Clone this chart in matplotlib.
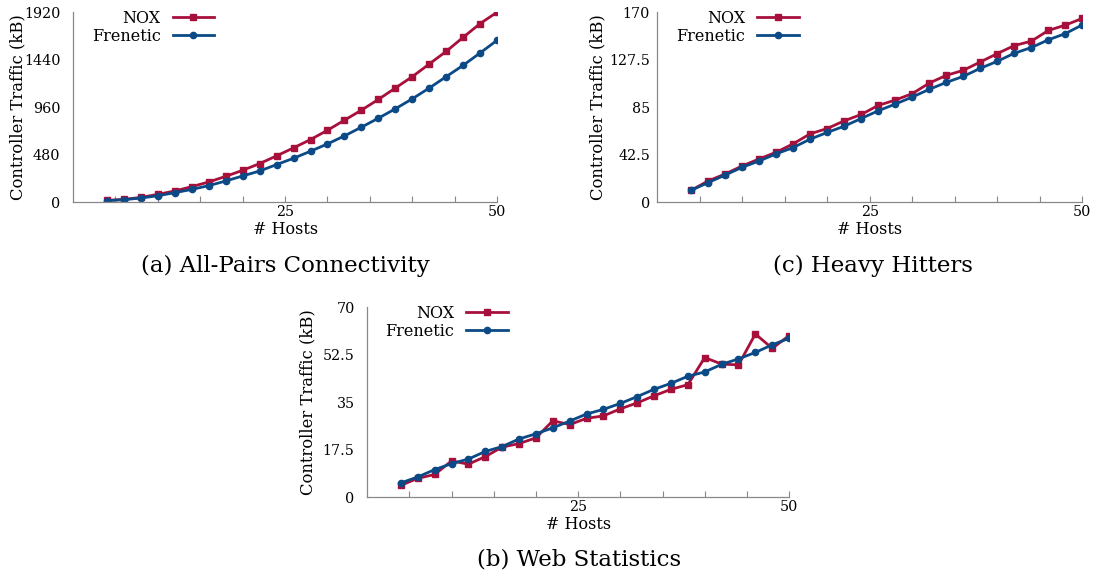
import matplotlib
matplotlib.use("Agg")
import matplotlib.pyplot as plt

plt.rcParams['font.family'] = ['DejaVu Serif']

hosts = list(range(4, 51, 2))

# (a) All-Pairs Connectivity
allpairs_nox = [17, 27, 47, 78, 112, 156, 203, 260, 321, 389, 467, 548,
                632, 726, 828, 929, 1038, 1153, 1268, 1396, 1524, 1666, 1805, 1920]
allpairs_frenetic = [14, 24, 41, 64, 95, 128, 166, 213, 264, 314, 379, 443,
                     514, 588, 669, 757, 848, 943, 1044, 1153, 1268, 1383, 1508, 1636]

# (c) Heavy Hitters
heavy_nox = [10.5, 18.9, 25.1, 32.3, 38.6, 44.6, 52.1, 61.1, 65.8, 72.7, 78.4, 86.5,
             91.3, 97.0, 106.5, 113.4, 117.9, 125.4, 132.9, 140.1, 144.0, 153.6, 158.4, 164.4]
heavy_frenetic = [10.5, 17.4, 24.2, 31.1, 36.8, 43.1, 48.8, 56.3, 62.3, 67.9, 74.8, 81.7,
                  87.7, 94.0, 100.9, 107.1, 112.5, 119.7, 126.0, 133.2, 138.3, 145.2, 150.8, 158.6]

# (b) Web Statistics
web_nox = [4.3, 6.9, 8.3, 13.3, 12.1, 14.9, 18.4, 19.7, 21.8, 28.1, 26.7, 29.0,
           29.9, 32.5, 34.7, 37.3, 39.7, 41.4, 51.4, 49.0, 48.7, 60.1, 54.8, 59.5]
web_frenetic = [5.2, 7.4, 10.1, 12.3, 14.0, 16.8, 18.6, 21.4, 23.3, 25.5, 28.0, 30.6,
                32.3, 34.5, 37.0, 39.7, 41.9, 44.5, 46.1, 48.9, 50.9, 53.3, 56.1, 58.5]

red = '#A8103C'
blue = '#0B4A86'


def panel(ax, nox, fre, ymax, yticks, yticklabels, ylab_x, ypad=9):
    ax.plot(hosts, nox, color=red, marker='s', markersize=4.5, lw=2, label='NOX')
    ax.plot(hosts, fre, color=blue, marker='o', markersize=4.5, lw=2, label='Frenetic')
    ax.set_xlim(0, 50)
    ax.set_ylim(0, ymax)
    ax.set_xticks(list(range(5, 51, 5)))
    ax.set_xticklabels(['25' if t == 25 else '50' if t == 50 else '' for t in range(5, 51, 5)])
    ax.set_yticks(yticks)
    ax.set_yticklabels(yticklabels)
    ax.tick_params(axis='x', direction='in', length=4, color='#888888', labelsize=10.3, pad=2)
    ax.tick_params(axis='y', length=0, labelsize=10.3, pad=ypad)
    for s in ['top', 'right']:
        ax.spines[s].set_visible(False)
    for s in ['left', 'bottom']:
        ax.spines[s].set_color('#888888')
        ax.spines[s].set_linewidth(0.9)
    ax.set_xlabel('# Hosts', fontsize=11.5)
    ax.xaxis.set_label_coords(0.5, -0.102)
    ax.set_ylabel('Controller Traffic (kB)', fontsize=11.8, va='center')
    ax.yaxis.set_label_coords(ylab_x, 0.5)
    ax.legend(loc='upper right', bbox_to_anchor=(0.333, 1.012), frameon=False,
              markerfirst=False, fontsize=11.5, handlelength=2.6,
              labelspacing=0.05, borderaxespad=0, borderpad=0, handletextpad=0.75)


fig = plt.figure(figsize=(10.96, 5.79), dpi=100)
ax_a = fig.add_axes([0.0666, 0.651, 0.387, 0.328])
ax_c = fig.add_axes([0.5995, 0.651, 0.388, 0.328])
ax_b = fig.add_axes([0.335, 0.1416, 0.385, 0.328])

panel(ax_a, allpairs_nox, allpairs_frenetic, 1920, [0, 480, 960, 1440, 1920],
      ['0', '480', '960', '1440', '1920'], -0.13)
panel(ax_c, heavy_nox, heavy_frenetic, 170, [0, 42.5, 85, 127.5, 170],
      ['0', '42.5', '85', '127.5', '170'], -0.14, ypad=5)
panel(ax_b, web_nox, web_frenetic, 70, [0, 17.5, 35, 52.5, 70],
      ['0', '17.5', '35', '52.5', '70'], -0.14)

fig.text(0.260, 0.540, '(a) All-Pairs Connectivity', ha='center', va='center', fontsize=16.5)
fig.text(0.7965, 0.540, '(c) Heavy Hitters', ha='center', va='center', fontsize=16.5)
fig.text(0.528, 0.033, '(b) Web Statistics', ha='center', va='center', fontsize=16.5)

fig.savefig('out.png', dpi=100)
